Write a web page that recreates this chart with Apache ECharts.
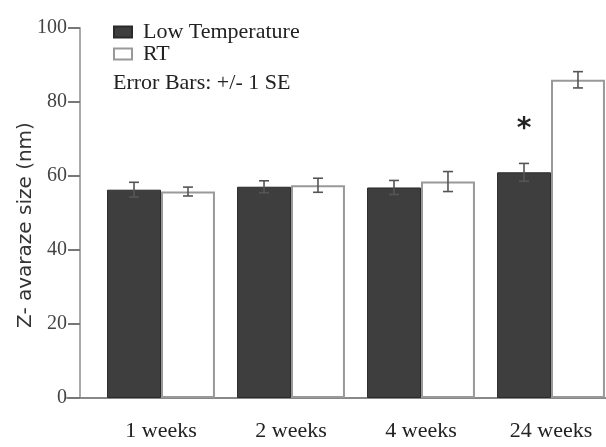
<!DOCTYPE html>
<html>
<head>
<meta charset="utf-8">
<script src="https://cdn.jsdelivr.net/npm/echarts@6/dist/echarts.min.js"></script>
<style>
  html, body { margin: 0; padding: 0; background: #fff; }
  #chart { width: 606px; height: 447px; }
</style>
</head>
<body>
<div id="chart"></div>
<script>
const categories = ['1 weeks', '2 weeks', '4 weeks', '24 weeks'];
const lowTemp = [56.3, 57.1, 56.9, 61.0];
const lowTempSE = [2.0, 1.6, 1.9, 2.4];
const rt = [55.8, 57.5, 58.5, 86.0];
const rtSE = [1.2, 1.9, 2.7, 2.2];
const starAt = [null, null, null, 72.5];
const yTicks = [0, 20, 40, 60, 80, 100];

const serif = 'Liberation Serif';
const barFrac = 0.415; // share of a category band taken by one bar

// error bars drawn on the side of each bar
function errorBars(values, errs, side) {
    return {
        type: 'custom',
        xAxisIndex: 0,
        yAxisIndex: 0,
        silent: true,
        z: 5,
        data: values.map((v, i) => [i, v - errs[i], v + errs[i]]),
        renderItem: (params, api) => {
            const band = api.size([1, 0])[0];
            const dx = side * band * barFrac / 2;
            const lo = api.coord([api.value(0), api.value(1)]);
            const hi = api.coord([api.value(0), api.value(2)]);
            const x = lo[0] + dx;
            const half = 5;
            const style = { stroke: '#555', lineWidth: 1.6 };
            return {
                type: 'group',
                children: [
                    { type: 'line', shape: { x1: x, y1: lo[1], x2: x, y2: hi[1] }, style },
                    { type: 'line', shape: { x1: x - half, y1: hi[1], x2: x + half, y2: hi[1] }, style },
                    { type: 'line', shape: { x1: x - half, y1: lo[1], x2: x + half, y2: lo[1] }, style }
                ]
            };
        }
    };
}

const chart = echarts.init(document.getElementById('chart'));
chart.setOption({
    backgroundColor: '#fff',
    animation: false,
    title: {
        text: 'Error Bars: +/- 1 SE',
        left: 113,
        top: 72,
        padding: 0,
        textStyle: { fontFamily: serif, fontSize: 22, fontWeight: 'normal', color: '#222' }
    },
    legend: {
        orient: 'vertical',
        left: 113,
        top: 21,
        padding: 0,
        itemGap: 0,
        itemWidth: 18,
        itemHeight: 11,
        icon: 'rect',
        textStyle: { fontFamily: serif, fontSize: 22, color: '#222', padding: [0, 0, 0, 6] },
        data: ['Low Temperature', 'RT']
    },
    grid: [
        { left: 96, width: 520, top: 28, bottom: 49, outerBoundsMode: 'none' },
        { left: 67, right: 0, top: 28, bottom: 49, outerBoundsMode: 'none' }
    ],
    xAxis: [
        {
            type: 'category',
            gridIndex: 0,
            data: categories,
            axisLine: { show: false },
            axisTick: { alignWithLabel: true, length: 10, lineStyle: { color: '#555', width: 2 } },
            axisLabel: { fontFamily: serif, fontSize: 22, color: '#222', margin: 22 }
        },
        {
            type: 'value',
            gridIndex: 1,
            min: 0,
            max: 1,
            axisLine: { show: true, lineStyle: { color: '#888', width: 2 } },
            axisTick: { show: false },
            axisLabel: { show: false },
            splitLine: { show: false }
        }
    ],
    yAxis: [
        {
            type: 'value',
            gridIndex: 0,
            min: 0,
            max: 100,
            interval: 20,
            offset: 16,
            name: 'Z- avaraze size (nm)',
            nameLocation: 'middle',
            nameGap: 44,
            nameMoveOverlap: false,
            nameTextStyle: { fontFamily: 'DejaVu Sans', fontSize: 20, color: '#333', padding: [0, 24, 0, 0] },
            axisLine: { show: true, lineStyle: { color: '#aaa', width: 2 } },
            axisTick: { show: true, length: 12, lineStyle: { color: '#777', width: 2 } },
            axisLabel: {
                fontFamily: serif, fontSize: 20, color: '#444', margin: 13,
                formatter: v => (yTicks.includes(v) ? String(v) : '')
            },
            splitLine: { show: false }
        },
        {
            type: 'value',
            gridIndex: 1,
            show: false
        }
    ],
    series: [
        {
            name: 'Low Temperature',
            type: 'bar',
            xAxisIndex: 0,
            yAxisIndex: 0,
            data: lowTemp,
            barWidth: (barFrac * 100) + '%',
            barGap: '0%',
            itemStyle: { color: '#3e3e3e', borderColor: '#2a2a2a', borderWidth: 1 }
        },
        {
            name: 'RT',
            type: 'bar',
            xAxisIndex: 0,
            yAxisIndex: 0,
            data: rt,
            barWidth: (barFrac * 100) + '%',
            barGap: '0%',
            itemStyle: { color: '#fff', borderColor: '#999', borderWidth: 2 }
        },
        errorBars(lowTemp, lowTempSE, -1),
        errorBars(rt, rtSE, 1),
        {
            type: 'custom',
            xAxisIndex: 0,
            yAxisIndex: 0,
            silent: true,
            data: starAt.map((v, i) => [i, v]),
            renderItem: (params, api) => {
                if (api.value(1) == null || isNaN(api.value(1))) return null;
                const band = api.size([1, 0])[0];
                const p = api.coord([api.value(0), api.value(1)]);
                return {
                    type: 'text',
                    x: p[0] - band * barFrac / 2,
                    y: p[1],
                    style: {
                        text: '*', fontFamily: 'DejaVu Sans', fontSize: 28, fontWeight: 'bold',
                        fill: '#222', align: 'center', verticalAlign: 'middle'
                    }
                };
            }
        }
    ]
});
window.addEventListener('resize', () => chart.resize());
</script>
</body>
</html>
